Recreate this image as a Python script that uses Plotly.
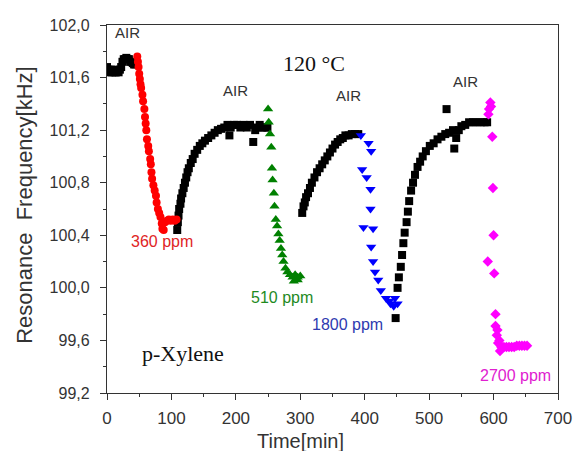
import plotly.graph_objects as go

# ---- data (time in min, resonance frequency in kHz) ----
air1_t = [0, 2, 4, 6, 8, 10, 12, 14, 16, 18, 20, 22, 24, 26, 28, 30, 32, 34, 36, 38, 40, 42, 44]
air1_f = [101.68, 101.66, 101.64, 101.66, 101.64, 101.66, 101.64, 101.64, 101.65, 101.64, 101.66, 101.68,
          101.72, 101.74, 101.74, 101.75, 101.74, 101.74, 101.72, 101.72, 101.71, 101.70, 101.70]

ppm360_t = [47, 48, 49, 50, 51, 52, 53, 55, 56, 58, 59, 60, 61, 62, 64, 65, 67, 68, 69, 70, 72, 74, 76, 77,
            79, 81, 83, 85, 86, 88, 90, 93, 96, 99, 102, 105, 108]
ppm360_f = [101.76, 101.72, 101.68, 101.63, 101.59, 101.55, 101.52, 101.47, 101.42, 101.36, 101.30, 101.25,
            101.20, 101.13, 101.08, 101.04, 100.98, 100.94, 100.88, 100.83, 100.78, 100.74, 100.70, 100.65,
            100.60, 100.57, 100.54, 100.49, 100.45, 100.44, 100.50, 100.51, 100.52, 100.51, 100.52, 100.51, 100.52]

air2_t = [109, 110, 111, 112, 114, 115, 117, 119, 121, 123, 125, 127, 130, 133, 136, 140, 144, 148, 152, 157,
          162, 167, 172, 177, 182, 187, 190, 192, 197, 202, 207, 212, 217, 222, 227, 230, 233, 237, 241, 245, 249]
air2_f = [100.44, 100.50, 100.55, 100.60, 100.64, 100.68, 100.72, 100.76, 100.80, 100.84, 100.88, 100.91,
          100.95, 100.98, 101.02, 101.05, 101.08, 101.10, 101.12, 101.14, 101.16, 101.18, 101.20, 101.21,
          101.22, 101.24, 101.16, 101.22, 101.24, 101.24, 101.22, 101.24, 101.22, 101.24, 101.11, 101.20,
          101.22, 101.24, 101.22, 101.22, 101.22]

ppm510_t = [250, 251, 253, 255, 256, 257, 259, 260, 262, 264, 266, 268, 270, 272, 274, 277, 280, 284, 288,
            292, 296, 300, 290, 296]
ppm510_f = [101.36, 101.26, 101.17, 101.07, 100.91, 100.82, 100.72, 100.62, 100.52, 100.47, 100.41, 100.36,
            100.30, 100.25, 100.20, 100.15, 100.12, 100.10, 100.08, 100.10, 100.08, 100.09, 100.05, 100.06]

air3_t = [303, 305, 307, 309, 312, 315, 318, 322, 326, 330, 334, 338, 342, 346, 350, 354, 358, 362, 366,
          370, 375, 380, 385, 390]
air3_f = [100.57, 100.62, 100.65, 100.69, 100.72, 100.76, 100.80, 100.84, 100.88, 100.91, 100.94, 100.97,
          101.00, 101.03, 101.06, 101.09, 101.11, 101.13, 101.14, 101.16, 101.16, 101.17, 101.17, 101.17]

ppm1800_t = [394, 406, 410, 396, 403, 409, 409, 398, 413, 410, 413, 416, 421, 425, 433, 440, 445, 451, 438, 447]
ppm1800_f = [101.16, 101.10, 101.04, 100.90, 100.84, 100.75, 100.60, 100.46, 100.45, 100.31, 100.20, 100.12,
             100.06, 99.98, 99.92, 99.88, 99.86, 99.88, 99.90, 99.92]

air4_t = [448, 451, 453, 456, 458, 460, 462, 465, 467, 469, 472, 475, 478, 482, 486, 490, 495, 501, 507, 513,
          519, 525, 527, 531, 537, 539, 542, 546, 550, 556, 562, 568, 574, 580, 586, 590]
air4_f = [99.77, 100.00, 100.08, 100.16, 100.25, 100.34, 100.42, 100.50, 100.58, 100.66, 100.74, 100.80,
          100.86, 100.92, 100.96, 101.00, 101.04, 101.08, 101.10, 101.13, 101.15, 101.17, 101.36, 101.18,
          101.20, 101.06, 101.14, 101.20, 101.23, 101.24, 101.26, 101.26, 101.26, 101.26, 101.26, 101.26]

ppm2700_t = [595, 593, 592, 596, 598, 599, 600, 591, 601, 603, 603, 605, 606, 607, 609, 610, 612, 616, 620,
             624, 628, 632, 636, 640, 644, 648, 652]
ppm2700_f = [101.41, 101.36, 101.32, 101.38, 101.15, 100.76, 100.40, 100.20, 100.11, 99.80, 99.71, 99.64,
             99.68, 99.58, 99.60, 99.52, 99.55, 99.55, 99.55, 99.55, 99.55, 99.55, 99.56, 99.56, 99.56, 99.56, 99.56]

x_ticks = [0, 100, 200, 300, 400, 500, 600, 700]
y_ticks = [99.2, 99.6, 100.0, 100.4, 100.8, 101.2, 101.6, 102.0]
y_ticktext = ["99,2", "99,6", "100,0", "100,4", "100,8", "101,2", "101,6", "102,0"]

fig = go.Figure()

def add(t, f, color, symbol, size):
    fig.add_trace(go.Scatter(x=t, y=f, mode="markers", showlegend=False,
                             marker=dict(color=color, symbol=symbol, size=size, line=dict(width=0))))

for t, f in [(air1_t, air1_f), (air2_t, air2_f), (air3_t, air3_f), (air4_t, air4_f)]:
    add(t, f, "black", "square", 8)
add(ppm360_t, ppm360_f, "#ff0000", "circle", 8)
add(ppm510_t, ppm510_f, "#008000", "triangle-up", 9)
add(ppm1800_t, ppm1800_f, "#0000ff", "triangle-down", 9)
add(ppm2700_t, ppm2700_f, "#ff00ff", "diamond", 8)

sans = "Liberation Sans, Arial, sans-serif"
serif = "Liberation Serif, Times New Roman, serif"
annos = [
    ("AIR", 32, 101.94, "#333333", sans, 15),
    ("AIR", 199, 101.50, "#333333", sans, 15),
    ("AIR", 375, 101.46, "#333333", sans, 15),
    ("AIR", 557, 101.57, "#333333", sans, 15),
    ("120 °C", 322, 101.71, "#111111", serif, 22),
    ("360 ppm", 85, 100.35, "#e02424", sans, 16),
    ("510 ppm", 271, 99.93, "#1e8a1e", sans, 16),
    ("1800 ppm", 373, 99.72, "#2e3ab0", sans, 16),
    ("2700 ppm", 634, 99.33, "#e020d0", sans, 16),
    ("p-Xylene", 118, 99.50, "#111111", serif, 22),
]
for text, x, y, c, fam, s in annos:
    fig.add_annotation(x=x, y=y, text=text, showarrow=False, font=dict(color=c, family=fam, size=s))

# axis titles placed as in the reference (off-centre)
fig.add_annotation(xref="paper", yref="paper", x=0.43, y=-0.13, xanchor="center", yanchor="middle",
                   text="Time[min]", showarrow=False, font=dict(family=sans, size=20, color="#333333"))
fig.add_annotation(xref="paper", yref="paper", x=-0.182, y=0.511, xanchor="center", yanchor="middle",
                   text="Resonance  Frequency[kHz]", textangle=-90, showarrow=False,
                   font=dict(family=sans, size=22, color="#333333"))

axis_common = dict(showline=True, linecolor="#333333", linewidth=1.3, mirror=True, showgrid=False,
                   zeroline=False, ticks="outside", ticklen=6, tickcolor="#333333")

fig.update_xaxes(range=[0, 700], tickvals=x_ticks, ticklabelstandoff=3,
                 tickfont=dict(family=sans, size=17, color="#333333"),
                 minor=dict(dtick=50, ticks="outside", ticklen=3, tickcolor="#333333"),
                 **axis_common)
fig.update_yaxes(range=[99.2, 102.0], tickvals=y_ticks, ticktext=y_ticktext, ticklabelstandoff=7,
                 tickfont=dict(family=sans, size=16, color="#333333"),
                 minor=dict(dtick=0.2, ticks="outside", ticklen=3, tickcolor="#333333"),
                 **axis_common)

fig.update_layout(width=584, height=451, margin=dict(l=107, r=15, t=25, b=58),
                  plot_bgcolor="white", paper_bgcolor="white")

fig.write_html("out.html")
